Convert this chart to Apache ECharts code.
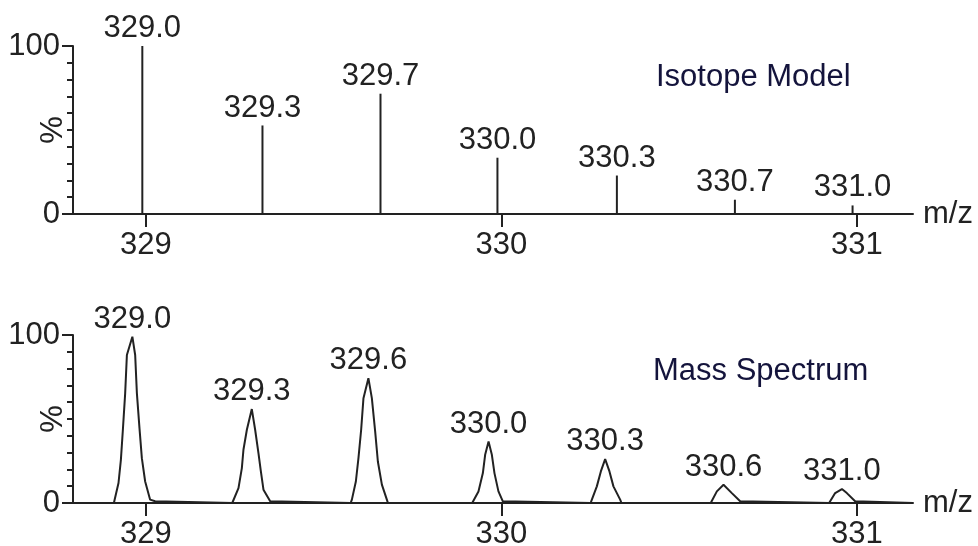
<!DOCTYPE html>
<html>
<head>
<meta charset="utf-8">
<script src="https://cdn.jsdelivr.net/npm/echarts@6/dist/echarts.min.js"></script>
<style>
  html, body { margin: 0; padding: 0; background: #ffffff; }
  #chart { width: 978px; height: 546px; }
</style>
</head>
<body>
<div id="chart"></div>
<script>
// Isotope model: centroid m/z and relative abundance (%)
const modelMz  = [328.990, 329.328, 329.660, 329.989, 330.325, 330.657, 330.988];
const modelPct = [100, 52.7, 71.6, 33.5, 22.9, 8.5, 5.1];

// Measured profile spectrum: m/z and relative intensity (%)
const spectrumMz = [
  328.795,
  328.910, 328.9136, 328.923, 328.9297, 328.9353, 328.9418, 328.9466, 328.962, 328.9699, 328.9747, 328.982, 328.9887, 328.998, 329.012, 329.026, 329.030,
  329.243, 329.2464, 329.2605, 329.270, 329.2745, 329.2841, 329.298, 329.3074, 329.3167, 329.3235, 329.3308, 329.3497, 329.353,
  329.576, 329.5795, 329.5907, 329.598, 329.6056, 329.6121, 329.626, 329.6357, 329.645, 329.6526, 329.6639, 329.6779, 329.681,
  329.918, 329.9215, 329.9356, 329.948, 329.9544, 329.964, 329.9733, 329.9806, 329.9918, 330.0042, 330.008,
  330.251, 330.2546, 330.2686, 330.2799, 330.292, 330.3041, 330.3153, 330.3342, 330.338,
  330.589, 330.5921, 330.6062, 330.625, 330.6484, 330.6718, 330.675,
  330.922, 330.9249, 330.939, 330.958, 330.9719, 330.9952, 330.998,
  331.158
];
const spectrumPct = [
  0,
  0, 1, 11.9, 25.7, 43.6, 65.4, 88.1, 99, 88.1, 65.4, 44.6, 26.7, 12.8, 2, 1, 0,
  0, 1, 8.9, 20.8, 31.7, 43.6, 55.9, 43.6, 29.7, 18.8, 7.9, 1, 0,
  0, 2, 12.8, 26.7, 43.6, 62.4, 74.3, 62.4, 42.6, 24.7, 10.9, 2, 0,
  0, 1, 6.9, 17.8, 28.7, 36.6, 28.7, 17.8, 6.9, 1, 0,
  0, 2, 9.9, 18.8, 26.1, 18.8, 9.9, 2, 0,
  0, 1, 6.9, 10.9, 5.9, 1, 0,
  0, 1, 5.9, 8.3, 5.9, 1, 0,
  0
];

// Peak apexes of the measured spectrum (labelled with m/z)
const apexMz  = [328.962, 329.298, 329.626, 329.964, 330.292, 330.625, 330.958];
const apexPct = [99, 55.9, 74.3, 36.6, 26.1, 10.9, 8.3];

// Axis ranges and tick positions
const mzMin = 328.795, mzMax = 331.158;
const mzTicks = [329, 330, 331];
const panelTitles = ['Isotope Model', 'Mass Spectrum'];

const FONT = '"Liberation Sans", Arial, sans-serif';
const INK = '#222222';
const TITLE_INK = '#14143c';

function zip(a, b) { return a.map((v, i) => [v, b[i]]); }

function xAxisFor(gridIndex) {
  return {
    type: 'value', gridIndex, min: mzMin, max: mzMax,
    name: 'm/z', nameLocation: 'end', nameGap: 10, nameMoveOverlap: false,
    nameTextStyle: { fontFamily: FONT, fontSize: 31, color: INK, verticalAlign: 'middle' },
    axisLine: { show: true, onZero: false, lineStyle: { color: INK, width: 2 } },
    axisTick: { show: true, length: 13, customValues: mzTicks, lineStyle: { color: INK, width: 2 } },
    axisLabel: { show: true, customValues: mzTicks, margin: 16, fontFamily: FONT, fontSize: 31, color: INK },
    splitLine: { show: false }
  };
}

function yAxisFor(gridIndex) {
  return {
    type: 'value', gridIndex, min: 0, max: 100, interval: 100,
    name: '%', nameLocation: 'middle', nameRotate: 90, nameGap: 4, nameMoveOverlap: false,
    nameTextStyle: { fontFamily: FONT, fontSize: 31, color: INK },
    axisLine: { show: true, lineStyle: { color: INK, width: 2 } },
    axisTick: { show: true, length: 11, lineStyle: { color: INK, width: 2 } },
    minorTick: { show: true, splitNumber: 10, length: 6, lineStyle: { color: INK, width: 2 } },
    axisLabel: { show: true, margin: 13, fontFamily: FONT, fontSize: 31, color: INK },
    splitLine: { show: false }
  };
}

// Vertical stick with its m/z label on top
function renderStick(params, api) {
  const mz = api.value(0), pct = api.value(1);
  const p0 = api.coord([mz, 0]);
  const p1 = api.coord([mz, pct]);
  return {
    type: 'group',
    children: [
      { type: 'line', shape: { x1: p0[0], y1: p0[1], x2: p1[0], y2: p1[1] },
        style: { stroke: INK, lineWidth: 2 } },
      { type: 'text', x: p1[0], y: p1[1] - 2,
        style: { text: mz.toFixed(1), fontFamily: FONT, fontSize: 31, fill: INK,
                 align: 'center', verticalAlign: 'bottom' } }
    ]
  };
}

// m/z label above a peak apex
function renderApexLabel(params, api) {
  const mz = api.value(0), pct = api.value(1);
  const p = api.coord([mz, pct]);
  return {
    type: 'text', x: p[0], y: p[1] - 2,
    style: { text: mz.toFixed(1), fontFamily: FONT, fontSize: 31, fill: INK,
             align: 'center', verticalAlign: 'bottom' }
  };
}

const chart = echarts.init(document.getElementById('chart'), null, { renderer: 'canvas' });
chart.setOption({
  backgroundColor: '#ffffff',
  animation: false,
  grid: [
    { left: 73, right: 65, top: 46, height: 168, containLabel: false, outerBoundsMode: 'none' },
    { left: 73, right: 65, top: 335, height: 168, containLabel: false, outerBoundsMode: 'none' }
  ],
  xAxis: [xAxisFor(0), xAxisFor(1)],
  yAxis: [yAxisFor(0), yAxisFor(1)],
  graphic: [
    { type: 'text', left: 656, top: 62,
      style: { text: panelTitles[0], fontFamily: FONT, fontSize: 31, fill: TITLE_INK } },
    { type: 'text', left: 653, top: 356,
      style: { text: panelTitles[1], fontFamily: FONT, fontSize: 31, fill: TITLE_INK } }
  ],
  series: [
    { type: 'custom', xAxisIndex: 0, yAxisIndex: 0, renderItem: renderStick,
      data: zip(modelMz, modelPct), clip: false },
    { type: 'line', xAxisIndex: 1, yAxisIndex: 1, data: zip(spectrumMz, spectrumPct),
      showSymbol: false, symbol: 'none', sampling: null,
      lineStyle: { color: INK, width: 2 } },
    { type: 'custom', xAxisIndex: 1, yAxisIndex: 1, renderItem: renderApexLabel,
      data: zip(apexMz, apexPct), clip: false }
  ]
});
</script>
</body>
</html>
